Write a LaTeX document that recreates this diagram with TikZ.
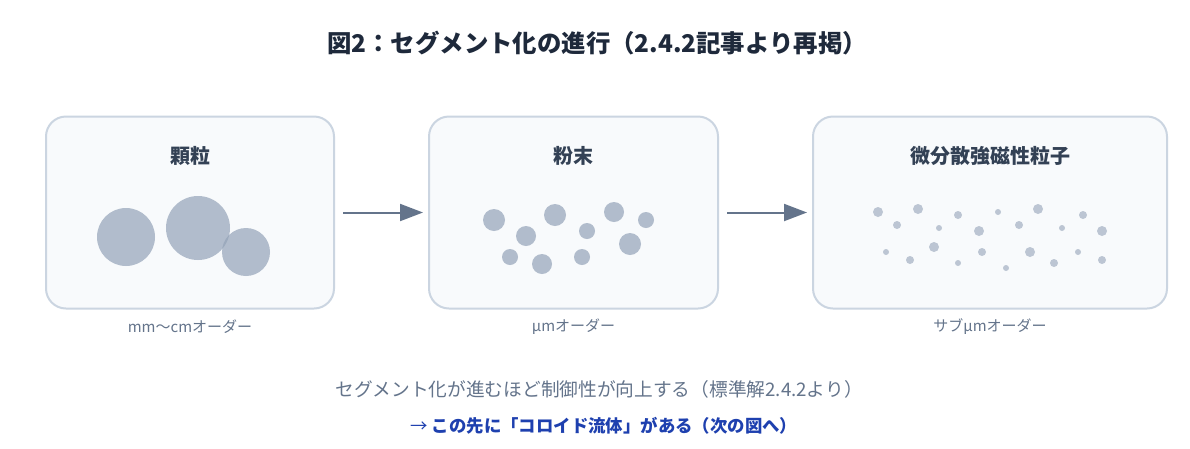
\documentclass[tikz,border=0pt]{standalone}
\usepackage{fontspec}
\setmainfont{Noto Sans CJK JP}
\usetikzlibrary{arrows.meta}
\definecolor{titlec}{HTML}{1E293B}
\definecolor{headc}{HTML}{334155}
\definecolor{mutedc}{HTML}{64748B}
\definecolor{boxfill}{HTML}{F8FAFC}
\definecolor{boxline}{HTML}{CBD5E1}
\definecolor{dotc}{HTML}{94A3B8}
\definecolor{linkc}{HTML}{1E40AF}
\definecolor{arrowc}{HTML}{64748B}
\tikzset{
  stagebox/.style={draw=boxline, fill=boxfill, line width=2pt, rounded corners=20pt, minimum height=192pt},
  stagetitle/.style={font=\fontsize{20}{24}\selectfont\bfseries, text=headc},
  scalelabel/.style={font=\fontsize{15}{18}\selectfont, text=mutedc},
  flowarrow/.style={draw=arrowc, line width=2pt, -{Triangle[length=23pt,width=17pt]}, shorten <=8pt, shorten >=5pt},
  bigp/.style={fill=dotc, fill opacity=0.7},
  smallp/.style={fill=dotc, fill opacity=0.6}
}
\begin{document}
\begin{tikzpicture}[x=1pt,y=-1pt]
\useasboundingbox (0,0) rectangle (1190,448);
\fill[white] (0,0) rectangle (1190,448);

\node[font=\fontsize{24.4}{29}\selectfont\bfseries, text=titlec] (title) at (597,43) {図2：セグメント化の進行（2.4.2記事より再掲）};

\node[stagebox, minimum width=288pt] (b1) at (190,212.5) {};
\node[stagebox, minimum width=289pt] (b2) at (573.5,212.5) {};
\node[stagebox, minimum width=354pt] (b3) at (990,212.5) {};

\node[stagetitle] (t1) at (190,156) {顆粒};
\node[stagetitle] (t2) at (573.5,156) {粉末};
\node[stagetitle] (t3) at (990,156) {微分散強磁性粒子};

% granules
\fill[bigp] (126,237) circle (29);
\fill[bigp] (198,228) circle (32);
\fill[bigp] (246,252) circle (24);

% powder
\foreach \x/\y/\r in {494/220/11, 526/236/10, 555/215/11, 587/231/8, 614/212/10, 646/220/8, 630/244/11, 510/257/8, 542/264/10, 582/257/8}
  \fill[bigp] (\x,\y) circle (\r);

% fine particles
\foreach \x/\y/\r in {878/212/5, 897/225/4, 918/209/5, 939/228/3, 958/215/4, 979/231/5, 998/212/3, 1019/225/4, 1038/209/5, 1062/228/3, 1083/215/4, 1102/231/5,
  886/252/3, 910/260/4, 934/247/5, 958/263/3, 982/252/4, 1006/268/3, 1030/252/5, 1054/263/4, 1078/252/3, 1102/260/4}
  \fill[smallp] (\x,\y) circle (\r);

\draw[flowarrow] (b1.east) -- (b2.west);
\draw[flowarrow] (b2.east) -- (b3.west);

\node[scalelabel] (l1) at (190,327) {mm〜cmオーダー};
\node[scalelabel] (l2) at (573.5,327) {μmオーダー};
\node[scalelabel] (l3) at (990,327) {サブμmオーダー};

\node[font=\fontsize{18.7}{23}\selectfont, text=mutedc] (cap) at (599,389) {セグメント化が進むほど制御性が向上する（標準解2.4.2より）};
\node[font=\fontsize{17.4}{21}\selectfont, text=linkc] (next) at (604,426) {→ \textbf{この先に「コロイド流体」がある（次の図へ）}};
\end{tikzpicture}
\end{document}
